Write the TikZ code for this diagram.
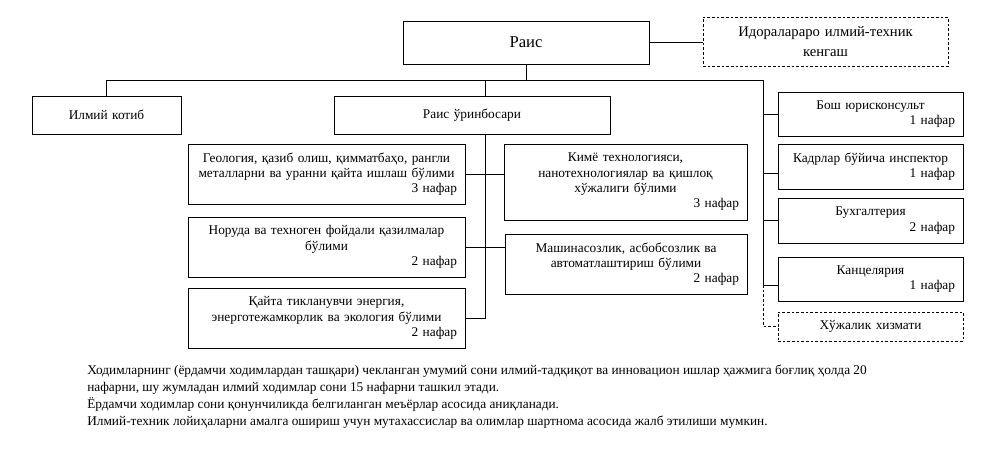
\documentclass[tikz,border=0pt]{standalone}
\usepackage{fontspec}
\setmainfont{Liberation Serif}
\usetikzlibrary{positioning}

% 1 px of the reference = 0.75pt
\tikzset{
  box/.style 2 args={draw, line width=0.6pt, minimum width=#1*0.75pt, minimum height=#2*0.75pt,
    text width=(#1-16)*0.75pt, align=center, inner sep=0pt, font=\fontsize{10}{11.5}\selectfont},
  dbox/.style 2 args={box={#1}{#2}, dash pattern=on 2pt off 1.5pt},
  link/.style={line width=0.6pt},
  dlink/.style={line width=0.6pt, dash pattern=on 2pt off 1.5pt}
}
\newcommand{\nfr}[1]{\\\mbox{}\hfill #1~нафар\hspace*{4pt}}

\begin{document}
\begin{tikzpicture}[x=0.75pt,y=-0.75pt]
\useasboundingbox (0,0) rectangle (984,454);
% boxes
\node[box={246}{43}, font=\fontsize{12.5}{14}\selectfont] (rais) at (526,42.5) {Раис};
\node[dbox={245}{49}, font=\fontsize{11}{15}\selectfont] (kengash) at (825.5,41.5) {Идоралараро илмий-техник\\кенгаш};
\node[box={149}{38}] (kotib) at (106.5,115) {Илмий котиб};
\node[box={276}{38}] (orinbosar) at (472,115) {Раис ўринбосари};
\node[box={277}{60}] (geo) at (326.5,174) {Геология, қазиб олиш, қимматбаҳо, рангли\\металларни ва уранни қайта ишлаш бўлими\nfr{3}};
\node[box={277}{60}] (noruda) at (326.5,247) {Норуда ва техноген фойдали қазилмалар\\бўлими\nfr{2}};
\node[box={277}{60}] (qayta) at (326.5,318) {Қайта тикланувчи энергия,\\энерготежамкорлик ва экология бўлими\nfr{2}};
\node[box={243}{76}] (kimyo) at (625.5,182) {Кимё технологияси,\\нанотехнологиялар ва қишлоқ\\хўжалиги бўлими\nfr{3}};
\node[box={242}{60}] (mashina) at (626,264) {Машинасозлик, асбобсозлик ва\\автоматлаштириш бўлими\nfr{2}};
\node[box={185}{44}] (bosh) at (870.5,114) {Бош юрисконсульт\nfr{1}};
\node[box={185}{45}] (kadr) at (870.5,166.5) {Кадрлар бўйича инспектор\nfr{1}};
\node[box={185}{45}] (buxg) at (870.5,220.5) {Бухгалтерия\nfr{2}};
\node[box={185}{44}] (kanc) at (870.5,279) {Канцелярия\nfr{1}};
\node[dbox={185}{29}] (xojalik) at (870.5,326.5) {Хўжалик хизмати};
% connectors
\coordinate (bus) at (526,80);
\coordinate (spine) at (485,80);
\coordinate (trunk) at (763,80);
\coordinate (kadrc) at ([yshift=-5pt]kadr.west);
\coordinate (kancc) at ([yshift=-4.5pt]kanc.west);
\draw[link] (rais.south) -- (bus);
\draw[link] (rais.east) -- (rais.east -| kengash.west);
\draw[link] (kotib.north) |- (trunk) -- (trunk |- kancc) -- (kancc);
\draw[link] (spine) -- (spine |- orinbosar.north);
\draw[link] (spine |- orinbosar.south) -- (spine |- qayta.east) -- (qayta.east);
\draw[link] (geo.east) -- (geo.east -| kimyo.west);
\draw[link] (noruda.east) -- (noruda.east -| mashina.west);
\draw[link] (trunk |- bosh.west) -- (bosh.west);
\draw[link] (trunk |- kadrc) -- (kadrc);
\draw[link] (trunk |- buxg.west) -- (buxg.west);
\draw[dlink] (trunk |- kancc) -- (trunk |- xojalik.west) -- (xojalik.west);
% notes
\node[anchor=north west, align=left, inner sep=0pt, font=\fontsize{10}{12.75}\selectfont] (notes) at (87,365)
  {Ходимларнинг (ёрдамчи ходимлардан ташқари) чекланган умумий сони илмий-тадқиқот ва инновацион ишлар ҳажмига боғлиқ ҳолда 20\\
   нафарни, шу жумладан илмий ходимлар сони 15 нафарни ташкил этади.\\
   Ёрдамчи ходимлар сони қонунчиликда белгиланган меъёрлар асосида аниқланади.\\
   Илмий-техник лойиҳаларни амалга ошириш учун мутахассислар ва олимлар шартнома асосида жалб этилиши мумкин.};
\end{tikzpicture}
\end{document}
